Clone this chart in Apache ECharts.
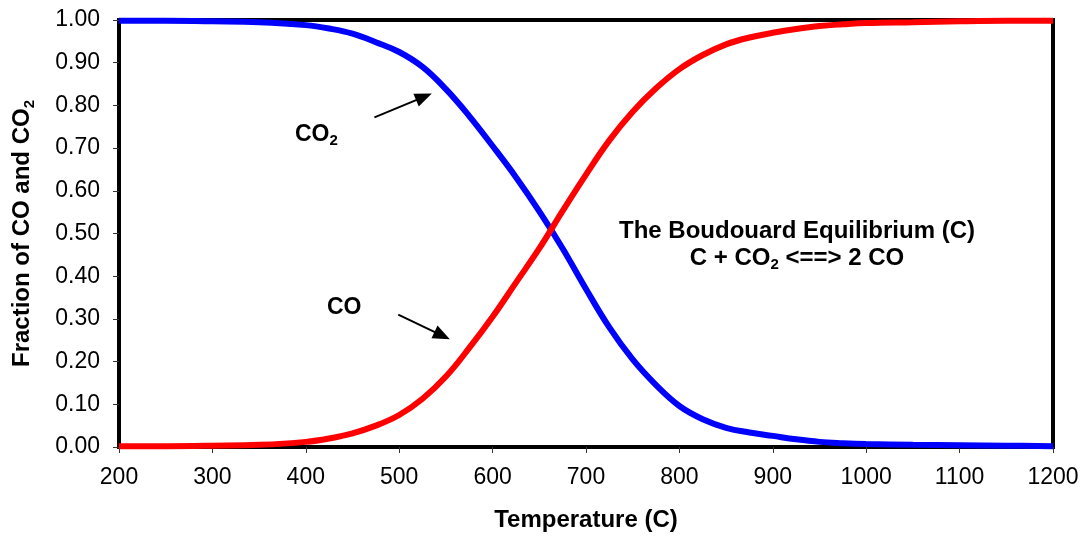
<!DOCTYPE html>
<html>
<head>
<meta charset="utf-8">
<script src="https://cdn.jsdelivr.net/npm/echarts@6/dist/echarts.min.js"></script>
<style>
html,body{margin:0;padding:0;background:#fff;}
#chart{width:1085px;height:537px;}
</style>
</head>
<body>
<div id="chart"></div>
<script>
// Temperatures (C)
var temps = [200, 250, 300, 350, 400, 425, 450, 475, 500, 525, 550, 575, 600, 625, 650, 675, 700, 725, 750, 775, 800, 825, 850, 875, 900, 925, 950, 975, 1000, 1050, 1100, 1150, 1200];
// Fraction CO (red)
var coFrac = [0.002, 0.002, 0.003, 0.005, 0.012, 0.020, 0.032, 0.050, 0.075, 0.113, 0.165, 0.232, 0.305, 0.385, 0.465, 0.553, 0.638, 0.718, 0.785, 0.840, 0.885, 0.918, 0.943, 0.959, 0.970, 0.979, 0.986, 0.990, 0.993, 0.995, 0.997, 0.998, 0.998];
// Fraction CO2 (blue)
var co2Frac = [0.998, 0.998, 0.997, 0.995, 0.988, 0.980, 0.968, 0.948, 0.925, 0.890, 0.838, 0.775, 0.705, 0.632, 0.552, 0.465, 0.370, 0.280, 0.205, 0.145, 0.096, 0.065, 0.045, 0.034, 0.026, 0.018, 0.012, 0.009, 0.007, 0.005, 0.004, 0.003, 0.002];

// Axis settings
var xMin = 200, xMax = 1200, xStep = 100;
var yMin = 0, yMax = 1, yStep = 0.1;

// Annotation arrows [from, to] in data coordinates
var co2Arrow = [[473.5, 0.772], [526.5, 0.820]];
var coArrow = [[499, 0.310], [546, 0.261]];

var FONT = '"Liberation Sans", Arial, sans-serif';

function pair(xs, ys) { return xs.map(function (x, i) { return [x, ys[i]]; }); }

var chart = echarts.init(document.getElementById('chart'), null, {renderer: 'canvas'});

var arrowLine = function (a) {
  return [{coord: a[0]}, {coord: a[1]}];
};

var subRich = {sub: {fontFamily: FONT, fontWeight: 'bold', fontSize: 15, color: '#000', fill: '#000', verticalAlign: 'bottom', lineHeight: 15}};

chart.setOption({
  animation: false,
  backgroundColor: '#fff',
  grid: {
    left: 117, right: 32, top: 20, bottom: 90,
    show: true, borderColor: '#000', borderWidth: 4, backgroundColor: 'transparent'
  },
  xAxis: {
    type: 'value', min: xMin, max: xMax, interval: xStep,
    name: 'Temperature (C)', nameLocation: 'middle', nameGap: 61,
    nameTextStyle: {fontFamily: FONT, fontWeight: 'bold', fontSize: 24, color: '#000'},
    axisLine: {show: true, onZero: false, lineStyle: {color: '#000', width: 4}},
    axisTick: {show: true, length: 6, lineStyle: {color: '#333', width: 1}},
    axisLabel: {fontFamily: FONT, fontSize: 23, color: '#000', margin: 19,
      formatter: function (v) { return String(v); }},
    splitLine: {show: false}
  },
  yAxis: {
    type: 'value', min: yMin, max: yMax, interval: yStep,
    name: 'Fraction of CO and CO{sub|2}', nameLocation: 'middle', nameGap: 82,
    nameTextStyle: {fontFamily: FONT, fontWeight: 'bold', fontSize: 24, color: '#000', lineHeight: 29,
      rich: {sub: {fontFamily: FONT, fontWeight: 'bold', fontSize: 15, color: '#000', verticalAlign: 'bottom', lineHeight: 15}}},
    axisLine: {show: true, onZero: false, lineStyle: {color: '#000', width: 4}},
    axisTick: {show: true, length: 6, lineStyle: {color: '#333', width: 1}},
    axisLabel: {fontFamily: FONT, fontSize: 23, color: '#000', margin: 19,
      formatter: function (v) { return v.toFixed(2); }},
    splitLine: {show: false}
  },
  series: [
    {
      name: 'CO2', type: 'line', data: pair(temps, co2Frac), smooth: 0.4,
      showSymbol: false, lineStyle: {color: '#0000ff', width: 6}, itemStyle: {color: '#0000ff'},
      markLine: {
        silent: true, symbol: ['none', 'triangle'], symbolSize: [14, 17],
        label: {show: false},
        lineStyle: {color: '#000', width: 2, type: 'solid'},
        data: [arrowLine(co2Arrow)]
      }
    },
    {
      name: 'CO', type: 'line', data: pair(temps, coFrac), smooth: 0.4,
      showSymbol: false, lineStyle: {color: '#ff0000', width: 6}, itemStyle: {color: '#ff0000'},
      markLine: {
        silent: true, symbol: ['none', 'triangle'], symbolSize: [14, 17],
        label: {show: false},
        lineStyle: {color: '#000', width: 2, type: 'solid'},
        data: [arrowLine(coArrow)]
      }
    }
  ],
  graphic: [
    {
      type: 'text', x: 797, y: 218,
      style: {
        text: 'The Boudouard Equilibrium (C)\nC + CO{sub|2} <==> 2 CO',
        fontFamily: FONT, fontWeight: 'bold', fontSize: 24, fill: '#000',
        align: 'center', verticalAlign: 'top', lineHeight: 27,
        rich: subRich
      }
    },
    {
      type: 'text', x: 295, y: 121,
      style: {
        text: 'CO{sub|2}', fontFamily: FONT, fontWeight: 'bold', fontSize: 23, fill: '#000',
        align: 'left', verticalAlign: 'top', lineHeight: 27,
        rich: subRich
      }
    },
    {
      type: 'text', x: 327, y: 296,
      style: {
        text: 'CO', fontFamily: FONT, fontWeight: 'bold', fontSize: 23, fill: '#000',
        align: 'left', verticalAlign: 'top'
      }
    }
  ]
});
</script>
</body>
</html>
